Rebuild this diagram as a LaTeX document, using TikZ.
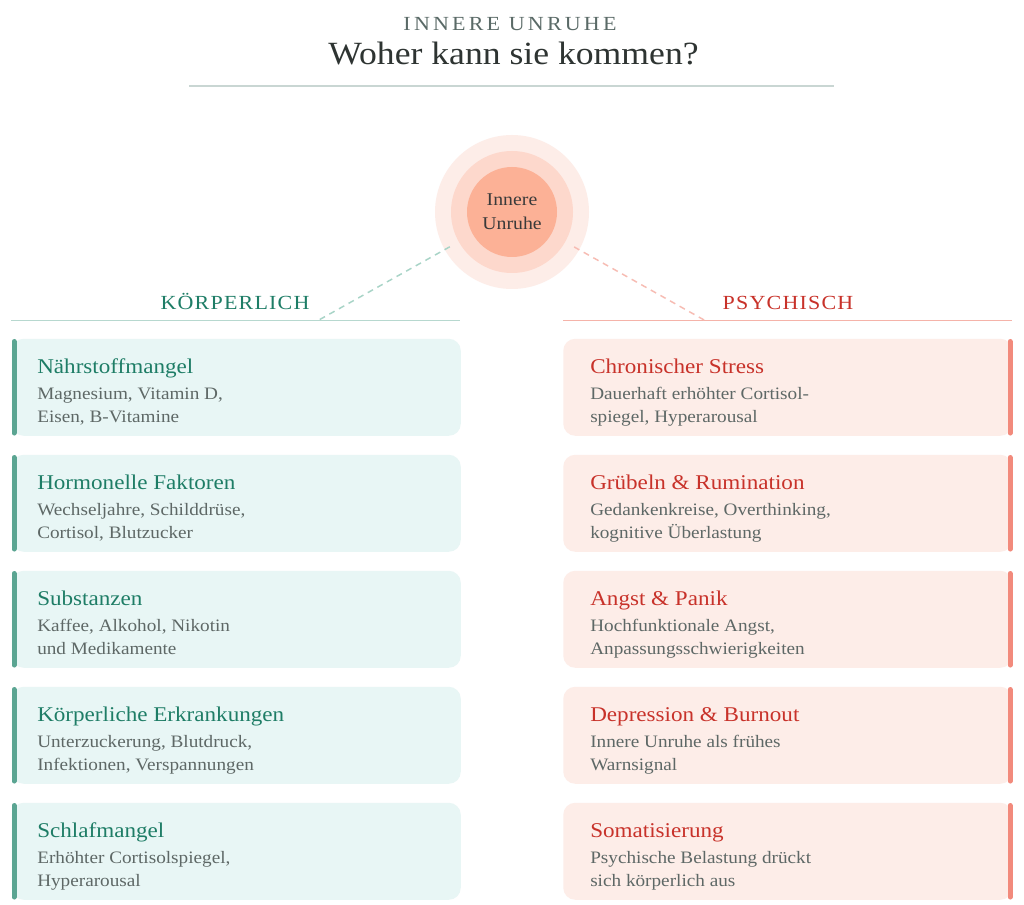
\documentclass[tikz,border=0pt]{standalone}
\usepackage{fontspec}
\setmainfont{Liberation Serif}[FakeStretch=1.1]
\usetikzlibrary{calc}
\definecolor{headG}{HTML}{5A6A67}
\definecolor{titleD}{HTML}{2E3432}
\definecolor{hruleC}{HTML}{C9D6D3}
\definecolor{tealT}{HTML}{1E7D66}
\definecolor{tealB}{HTML}{5BA592}
\definecolor{tealF}{HTML}{E8F6F5}
\definecolor{tealR}{HTML}{B7D8CF}
\definecolor{tealD}{HTML}{A8D4C7}
\definecolor{redT}{HTML}{C8322A}
\definecolor{redB}{HTML}{F28A7C}
\definecolor{redF}{HTML}{FDEDE8}
\definecolor{redR}{HTML}{F5B3A9}
\definecolor{redD}{HTML}{F7BCB3}
\definecolor{descG}{HTML}{5E6866}
\definecolor{haloA}{HTML}{FDEDE8}
\definecolor{haloB}{HTML}{FDD8CC}
\definecolor{haloC}{HTML}{FCB196}
\definecolor{coreT}{HTML}{3A3A3A}
\tikzset{
  card/.style={rectangle, inner sep=0pt, minimum width=336.75pt, minimum height=72.75pt, rounded corners=9pt, anchor=north west},
  lcard/.style={card, fill=tealF},
  rcard/.style={card, fill=redF},
  ctitle/.style={anchor=base west, inner sep=0pt, font=\fontsize{15.75}{18}\selectfont},
  cdesc/.style={anchor=base west, inner sep=0pt, align=left, text=descG, font=\fontsize{13.1}{17.25}\selectfont},
  lbar/.style={draw=tealB, line width=3.75pt, line cap=round},
  rbar/.style={draw=redB, line width=3.75pt, line cap=round},
  sechead/.style={anchor=base, inner sep=0pt, font=\fontsize{15}{18}\selectfont\addfontfeatures{LetterSpace=6}},
  halo/.style={circle, inner sep=0pt, draw=none},
  ldash/.style={draw=tealD, line width=1.1pt, dash pattern=on 4.5pt off 3.75pt},
  rdash/.style={draw=redD, line width=1.1pt, dash pattern=on 4.5pt off 3.75pt},
}
% the base anchor of a two-line node lies on its last line
\newcommand\lcard[4]{%
  \node[lcard] (#1) at (11.5,#2) {};
  \draw[lbar] ($(#1.north west)+(2.5,3)$) -- ($(#1.south west)+(2.5,-3)$);
  \node[ctitle, text=tealT] (#1t) at ($(#1.north west)+(25.5,35)$) {#3};
  \node[cdesc] (#1d) at ($(#1.north west)+(25.5,83.5)$) {#4};
}
\newcommand\rcard[4]{%
  \node[rcard] (#1) at (563,#2) {};
  \draw[rbar] ($(#1.north east)+(-2.5,3)$) -- ($(#1.south east)+(-2.5,-3)$);
  \node[ctitle, text=redT] (#1t) at ($(#1.north west)+(27,35)$) {#3};
  \node[cdesc] (#1d) at ($(#1.north west)+(27,83.5)$) {#4};
}
\begin{document}
\begin{tikzpicture}[x=0.75pt, y=-0.75pt]
\useasboundingbox[fill=white] (0,0) rectangle (1024,905);
% header
\node[anchor=base, inner sep=0pt, text=headG, font=\fontsize{15}{18}\selectfont\addfontfeatures{LetterSpace=16}] (kicker) at (510,31) {INNERE UNRUHE};
\node[anchor=base, inner sep=0pt, text=titleD, font=\fontsize{24.3}{28}\selectfont] (title) at (513.5,65) {Woher kann sie kommen?};
\draw[hruleC, line width=1.1pt] (189,86) -- (834,86);
% centre
\node[halo, fill=haloA, minimum size=115.5pt] (haloout) at (512,212) {};
\node[halo, fill=haloB, minimum size=91.5pt] (halomid) at (512,212) {};
\node[halo, fill=haloC, minimum size=67.5pt, text=coreT, align=center, font=\fontsize{13.5}{18}\selectfont] (core) at (512,212) {Innere\\Unruhe};
% section heads
\node[sechead, text=tealT] (koerper) at (235,309.3) {KÖRPERLICH};
\node[sechead, text=redT] (psych) at (788,309.3) {PSYCHISCH};
\draw[tealR, line width=1.1pt] (11,320.5) -- (460,320.5);
\draw[redR, line width=1.1pt] (563,320.5) -- (1012,320.5);
\coordinate (kl) at (318,320.5);
\coordinate (pr) at (705,320.5);
\draw[ldash, shorten <=-4.5pt] (haloout) -- (kl);
\draw[rdash, shorten <=-4.5pt] (haloout) -- (pr);
% left cards
\lcard{L1}{338.5}{Nährstoffmangel}{Magnesium, Vitamin D,\\Eisen, B-Vitamine}
\lcard{L2}{454.5}{Hormonelle Faktoren}{Wechseljahre, Schilddrüse,\\Cortisol, Blutzucker}
\lcard{L3}{570.5}{Substanzen}{Kaffee, Alkohol, Nikotin\\und Medikamente}
\lcard{L4}{686.5}{Körperliche Erkrankungen}{Unterzuckerung, Blutdruck,\\Infektionen, Verspannungen}
\lcard{L5}{802.5}{Schlafmangel}{Erhöhter Cortisolspiegel,\\Hyperarousal}
% right cards
\rcard{R1}{338.5}{Chronischer Stress}{Dauerhaft erhöhter Cortisol-\\spiegel, Hyperarousal}
\rcard{R2}{454.5}{Grübeln \& Rumination}{Gedankenkreise, Overthinking,\\kognitive Überlastung}
\rcard{R3}{570.5}{Angst \& Panik}{Hochfunktionale Angst,\\Anpassungsschwierigkeiten}
\rcard{R4}{686.5}{Depression \& Burnout}{Innere Unruhe als frühes\\Warnsignal}
\rcard{R5}{802.5}{Somatisierung}{Psychische Belastung drückt\\sich körperlich aus}
\end{tikzpicture}
\end{document}
